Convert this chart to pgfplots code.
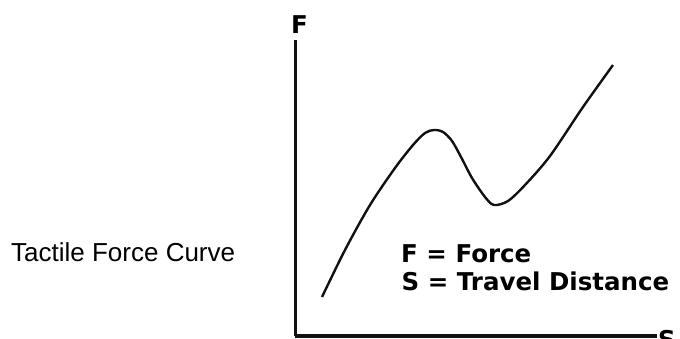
\documentclass[border=0pt]{standalone}
\usepackage{fontspec}
\usepackage{pgfplots}
\pgfplotsset{compat=1.18}
\setmainfont{Liberation Sans}
\newfontfamily\lblfont{DejaVu Sans}
\definecolor{ink}{HTML}{111111}

% curve points (S = travel, F = force, arbitrary units)
\pgfplotstableread{
s   f
27  39
50  86
75  131
100 168
118 191
130 203
139 206
148 204
157 195
166 179
177 158
190 139
199 131
213 135
230 151
255 180
288 229
318 271
}\tactile

\begin{document}
\begin{tikzpicture}
\useasboundingbox (0,0) rectangle (680bp,339bp);
\begin{axis}[
  at={(295bp,3bp)}, anchor=origin,
  scale only axis, width=362bp, height=296bp,
  xmin=0, xmax=362, ymin=0, ymax=296,
  axis lines=left,
  axis line style={-,line width=3bp,draw=ink},
  xtick=\empty, ytick=\empty,
  clip=false,
]
\addplot[ink,line width=2.4bp,smooth,tension=0.5] table[x=s,y=f] {\tactile};
\node[anchor=base west,inner sep=0pt,font={\lblfont\bfseries\fontsize{24.5bp}{28bp}\selectfont}]
  at (axis description cs:0,1) [xshift=-4bp,yshift=6bp] {F};
\node[anchor=base west,inner sep=0pt,font={\lblfont\bfseries\fontsize{24.5bp}{28bp}\selectfont}]
  at (axis description cs:1,0) [xshift=1bp,yshift=-12bp] {S};
\end{axis}
\node[anchor=base west,inner sep=0pt,font={\fontsize{26bp}{30bp}\selectfont}] at (11bp,77bp) {Tactile Force Curve};
\node[anchor=base west,inner sep=0pt,font={\lblfont\bfseries\fontsize{24.5bp}{28bp}\selectfont}] at (401bp,76bp) {F = Force};
\node[anchor=base west,inner sep=0pt,font={\lblfont\bfseries\fontsize{24.5bp}{28bp}\selectfont}] at (401.5bp,48bp) {S = Travel Distance};
\end{tikzpicture}
\end{document}
